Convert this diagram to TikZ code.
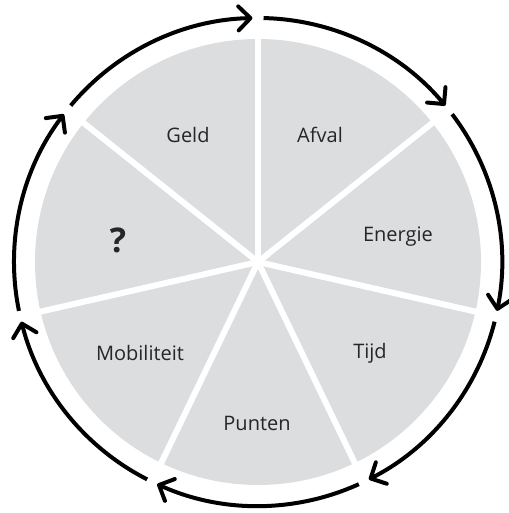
\documentclass[tikz,border=0pt]{standalone}
\usepackage{fontspec}
\setmainfont{Open Sans}
\usepackage{xcolor}
\usepackage{tikz}
\usetikzlibrary{arrows.meta}

\definecolor{piegray}{RGB}{220,221,223}
\tikzset{
  ring/.style={line width=4pt, -{Straight Barb[length=12pt, width=24pt, round]}},
  divider/.style={draw=white, line width=6pt},
  sector/.style={font=\fontsize{20}{24}\selectfont, text=black!85}
}

\begin{document}
\begin{tikzpicture}[x=1pt, y=1pt]
\useasboundingbox (0,0) rectangle (508,513);
\begin{scope}[shift={(258,251)}]
				\coordinate (c) at (0,0);
				\fill[piegray] (c) circle[radius=223];
				% dividers
				\coordinate (d1) at (90:226);
				\coordinate (d2) at (38.571:226);
				\coordinate (d3) at (-12.857:226);
				\coordinate (d4) at (-64.286:226);
				\coordinate (d5) at (-115.714:226);
				\coordinate (d6) at (-167.143:226);
				\coordinate (d7) at (141.429:226);
				\draw[divider] (c) -- (d1);
				\draw[divider] (c) -- (d2);
				\draw[divider] (c) -- (d3);
				\draw[divider] (c) -- (d4);
				\draw[divider] (c) -- (d5);
				\draw[divider] (c) -- (d6);
				\draw[divider] (c) -- (d7);
				% labels
				\node (geld) at (-70,127) [sector] {Geld};
				\node (afval) at (62,127) [sector] {Afval};
				\node (energie) at (140,25) [sector] {Energie};
				\node (tijd) at (112,-91) [sector] {Tijd};
				\node (punten) at (-1,-161) [sector] {Punten};
				\node (mobiliteit) at (-118,-91) [sector] {Mobiliteit};
				\node (onbekend) at (-140,22) [sector, font=\fontsize{34}{38}\selectfont\bfseries] {?};
				% cycle
				\coordinate (r1) at (88.7:244);
				\coordinate (r2) at (37.271:244);
				\coordinate (r3) at (-14.157:244);
				\coordinate (r4) at (-65.586:244);
				\coordinate (r5) at (-117.014:244);
				\coordinate (r6) at (-168.443:244);
				\coordinate (r7) at (140.129:244);
				\draw[ring] (r1) arc[start angle=88.7, end angle=39.871, radius=244];
				\draw[ring] (r2) arc[start angle=37.271, end angle=-11.557, radius=244];
				\draw[ring] (r3) arc[start angle=-14.157, end angle=-62.986, radius=244];
				\draw[ring] (r4) arc[start angle=-65.586, end angle=-114.414, radius=244];
				\draw[ring] (r5) arc[start angle=-117.014, end angle=-165.843, radius=244];
				\draw[ring] (r6) arc[start angle=-168.443, end angle=-217.271, radius=244];
				\draw[ring] (r7) arc[start angle=140.129, end angle=91.3, radius=244];
\end{scope}
			\end{tikzpicture}
\end{document}
